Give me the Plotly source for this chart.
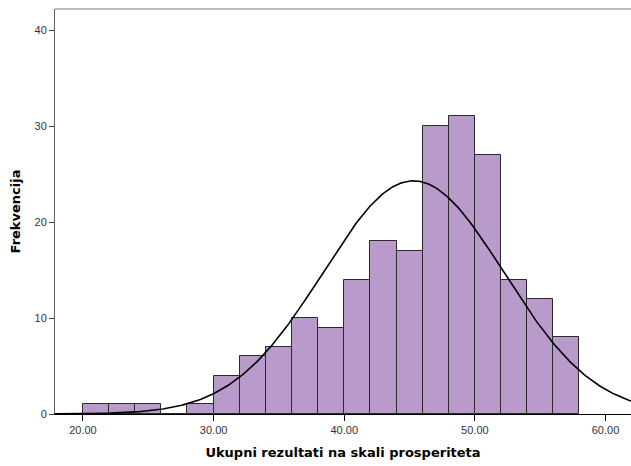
import numpy as np
import plotly.graph_objects as go

bin_starts = [20, 22, 24, 26, 28, 30, 32, 34, 36, 38, 40, 42, 44, 46, 48, 50, 52, 54, 56]
counts = [1, 1, 1, 0, 1, 4, 6, 7, 10, 9, 14, 18, 17, 30, 31, 27, 14, 12, 8]
bin_width = 2
mean_val = 45.3
sd_val = 6.93
x_ticks = [20, 30, 40, 50, 60]
x_tick_labels = ["20.00", "30.00", "40.00", "50.00", "60.00"]
y_ticks = [0, 10, 20, 30, 40]

n_total = sum(counts)
centers = [s + bin_width / 2 for s in bin_starts]

xs = np.linspace(17.8, 62.0, 400)
ys = n_total * bin_width / (sd_val * np.sqrt(2 * np.pi)) * np.exp(-0.5 * ((xs - mean_val) / sd_val) ** 2)

fig = go.Figure()
fig.add_trace(go.Bar(
    x=centers, y=counts, width=bin_width,
    marker=dict(color="#B89BCA", line=dict(color="#2a2a2a", width=1)),
    hoverinfo="skip",
))
fig.add_trace(go.Scatter(
    x=xs, y=ys, mode="lines",
    line=dict(color="black", width=1.6),
    hoverinfo="skip",
))

fig.update_layout(
    width=631, height=466,
    margin=dict(l=55, r=0, t=9, b=52),
    plot_bgcolor="white", paper_bgcolor="white",
    showlegend=False, bargap=0,
    font=dict(family="Liberation Sans, Arial, sans-serif", size=11, color="#222"),
    xaxis=dict(
        range=[17.86, 61.95], tickvals=x_ticks, ticktext=x_tick_labels,
        showgrid=False, zeroline=False, showline=True, linecolor="black", linewidth=1,
        ticks="outside", ticklen=6, tickcolor="black",
        tickfont=dict(size=11, color="#333"),
        title=dict(text="<b>Ukupni rezultati na skali prosperiteta</b>",
                   font=dict(size=13, color="black", family="DejaVu Sans, sans-serif"), standoff=12),
    ),
    yaxis=dict(
        range=[0, 42.2], tickvals=y_ticks,
        showgrid=False, zeroline=False, showline=True, linecolor="#666", linewidth=1,
        ticks="outside", ticklen=5, tickcolor="#444",
        tickfont=dict(size=11, color="#333"),
        title=dict(text="<b>Frekvencija</b>",
                   font=dict(size=13, color="black", family="DejaVu Sans, sans-serif"), standoff=10),
    ),
)
fig.add_shape(type="line", xref="paper", yref="paper", x0=0, x1=1, y0=1, y1=1,
              line=dict(color="#777", width=1))

fig.write_html("out.html", config={"displayModeBar": False},
               post_script="document.body.style.margin='0';document.body.style.overflow='hidden';")
